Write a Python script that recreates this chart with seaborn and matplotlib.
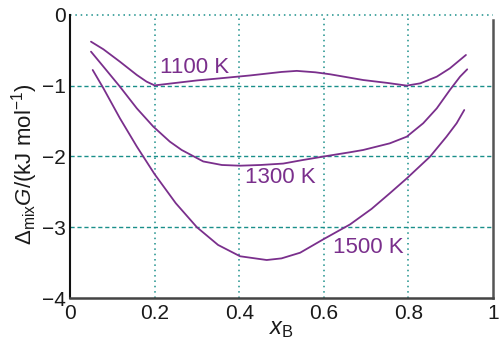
import numpy as np
import pandas as pd
import matplotlib
matplotlib.use("Agg")
import matplotlib.pyplot as plt
import seaborn as sns

# curve data (x_B, Delta_mix G in kJ/mol)
x_1100 = [0.0496, 0.079, 0.118, 0.158, 0.181, 0.2, 0.25, 0.3, 0.355, 0.425, 0.5, 0.536,
          0.58, 0.615, 0.693, 0.75, 0.796, 0.828, 0.867, 0.898, 0.936]
g_1100 = [-0.377, -0.485, -0.66, -0.848, -0.942, -0.995, -0.96, -0.925, -0.895, -0.855, -0.805, -0.79,
          -0.81, -0.838, -0.919, -0.96, -0.998, -0.966, -0.872, -0.754, -0.565]

x_1300 = [0.0496, 0.079, 0.118, 0.158, 0.197, 0.236, 0.264, 0.315, 0.359, 0.402, 0.45, 0.504,
          0.55, 0.61, 0.662, 0.693, 0.756, 0.796, 0.835, 0.867, 0.898, 0.922, 0.939]
g_1300 = [-0.518, -0.73, -1.013, -1.32, -1.578, -1.79, -1.908, -2.07, -2.12, -2.13, -2.12, -2.10,
          -2.05, -1.99, -1.94, -1.908, -1.814, -1.72, -1.53, -1.32, -1.06, -0.872, -0.768]

x_1500 = [0.0536, 0.079, 0.118, 0.158, 0.2, 0.25, 0.3, 0.35, 0.402, 0.465, 0.5, 0.544, 0.599,
          0.662, 0.713, 0.756, 0.796, 0.851, 0.89, 0.914, 0.932]
g_1500 = [-0.777, -1.036, -1.46, -1.86, -2.25, -2.66, -3.0, -3.25, -3.41, -3.463, -3.44, -3.36, -3.17,
          -2.96, -2.74, -2.52, -2.31, -2.003, -1.72, -1.53, -1.343]

curve_names = ["1100 K", "1300 K", "1500 K"]
label_x = [0.295, 0.498, 0.705]
label_y = [-0.74, -2.29, -3.28]

x_ticks = [0, 0.2, 0.4, 0.6, 0.8, 1.0]
x_ticklabels = ["0", "0.2", "0.4", "0.6", "0.8", "1"]
y_ticks = [0, -1, -2, -3, -4]
y_ticklabels = ["0", "\u22121", "\u22122", "\u22123", "\u22124"]

purple = "#7a2f8c"
teal = "#1a8f8a"

df = pd.concat([
    pd.DataFrame({"x": x_1100, "g": g_1100, "T": "1100 K"}),
    pd.DataFrame({"x": x_1300, "g": g_1300, "T": "1300 K"}),
    pd.DataFrame({"x": x_1500, "g": g_1500, "T": "1500 K"}),
], ignore_index=True)

sns.set_theme(style="white")
plt.rcParams["font.family"] = ["Liberation Sans", "DejaVu Sans"]
plt.rcParams["mathtext.fontset"] = "custom"
plt.rcParams["mathtext.rm"] = "Liberation Sans"
plt.rcParams["mathtext.it"] = "Liberation Sans:italic"

fig = plt.figure(figsize=(4.99, 3.47), dpi=100)
ax = fig.add_axes([0.1403, 0.1412, 0.8477, 0.8156])

# grid: dotted verticals, dashed horizontals
for xv in [0.2, 0.4, 0.6, 0.8]:
    ax.axvline(xv, color=teal, lw=1.1, ls=(0, (1, 2.5)), zorder=1)
for yv in [-1, -2, -3]:
    ax.axhline(yv, color=teal, lw=1.0, ls=(0, (3, 2)), zorder=1)
ax.axhline(0, color=teal, lw=1.1, ls=(0, (1, 2.5)), zorder=1, clip_on=False)

sns.lineplot(data=df, x="x", y="g", units="T", estimator=None, sort=False,
             color=purple, lw=1.3, ax=ax, zorder=3)

for name, lx, ly in zip(curve_names, label_x, label_y):
    ax.text(lx, ly, name, color=purple, fontsize=16, ha="center", va="center", zorder=4)

ax.set_xlim(0, 1)
ax.set_ylim(-4, 0)
ax.set_xticks(x_ticks)
ax.set_xticklabels(x_ticklabels)
ax.set_yticks(y_ticks)
ax.set_yticklabels(y_ticklabels)
ax.tick_params(axis="both", length=0, labelsize=15, colors="#1a1a1a")
ax.tick_params(axis="x", pad=4)
ax.tick_params(axis="y", pad=3)

ax.set_xlabel(r"$x_{\rm B}$", fontsize=17, labelpad=-3, color="#1a1a1a")
ax.set_ylabel(r"$\Delta_{\rm mix}G$/(kJ mol$^{-1}$)", fontsize=16, color="#1a1a1a")
ax.yaxis.set_label_coords(-0.072, 0.473)

ax.spines["top"].set_visible(False)
ax.spines["left"].set_color("#111111")
ax.spines["left"].set_linewidth(1.5)
ax.spines["bottom"].set_color("#444444")
ax.spines["bottom"].set_linewidth(1.8)
ax.spines["right"].set_color("#555555")
ax.spines["right"].set_linewidth(1.8)
ax.spines["right"].set_bounds(-4, -0.07)

fig.savefig("out.png", dpi=100)
